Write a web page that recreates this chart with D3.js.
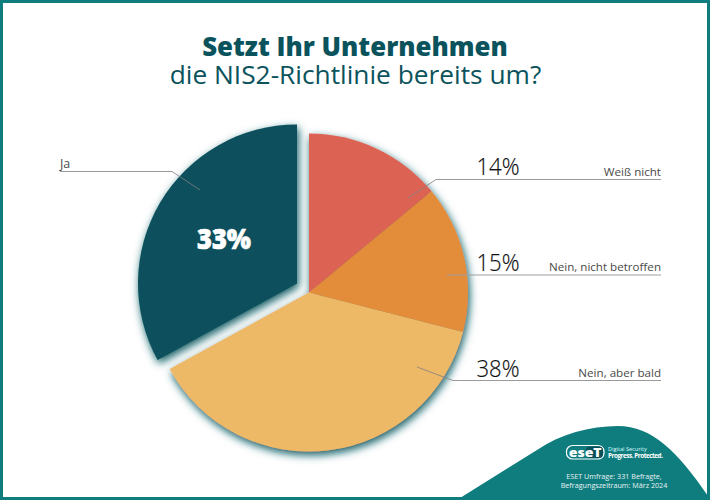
<!DOCTYPE html>
<html><head><meta charset="utf-8">
<script src="https://cdn.jsdelivr.net/npm/d3@7"></script>
<style>html,body{margin:0;padding:0;background:#fff}svg{display:block}text{font-family:"Open Sans","Noto Sans",sans-serif}</style>
</head><body><div id="c"></div>
<script>
const categories = ["Weiß nicht","Nein, nicht betroffen","Nein, aber bald","Ja"];
const values = [14,15,38,33];
const valueLabels = ["14%","15%","38%","33%"];
const colors = ["#dc6353","#e38d3a","#eeb966","#08505b"];
const title1 = "Setzt Ihr Unternehmen";
const title2 = "die NIS2-Richtlinie bereits um?";
const footer = ["ESET Umfrage: 331 Befragte,","Befragungszeitraum: März 2024"];

const W=710,H=500,teal="#0f7c7e",cx=309,cy=292.5,R=159;
const svg=d3.select("#c").append("svg").attr("width",W).attr("height",H);
const defs=svg.append("defs");
const f=defs.append("filter").attr("id","glow").attr("x","-20%").attr("y","-20%").attr("width","140%").attr("height","140%");
f.append("feDropShadow").attr("dx",1.5).attr("dy",3.5).attr("stdDeviation",4.5).attr("flood-color","#0a5a62").attr("flood-opacity",1);
svg.append("rect").attr("x",1.5).attr("y",1.5).attr("width",W-3).attr("height",H-3).attr("fill","#fff").attr("stroke",teal).attr("stroke-width",3);

// title
const tt=svg.append("text").attr("text-anchor","middle").attr("fill","#0b535c");
tt.append("tspan").attr("x",355).attr("y",56).attr("font-size",25.8).attr("font-weight",800).text(title1);
tt.append("tspan").attr("x",355.5).attr("y",84).attr("font-size",26.3).attr("font-weight",400).text(title2);

// pie
const pie=d3.pie().sort(null).value(d=>d)(values);
const arc=d3.arc().innerRadius(0).outerRadius(R);
const g=svg.append("g");
const offs=[-12,-9];
const main=g.append("g").attr("transform",`translate(${cx},${cy})`).attr("filter","url(#glow)");
main.selectAll("path").data(pie.slice(0,3)).join("path").attr("d",arc).attr("fill",(d,i)=>colors[i]);
g.append("g").attr("transform",`translate(${cx+offs[0]},${cy+offs[1]})`).attr("filter","url(#glow)")
  .append("path").datum(pie[3]).attr("d",arc).attr("fill",colors[3]);

// leader lines
const leaders=[
 {pts:[[408,198],[436,179.5],[661,179.5]],w:0.8,c:"#808080"},
 {pts:[[447,275],[661,275]],w:1.2,c:"#a0a0a0"},
 {pts:[[417,367],[453,380.5],[661,380.5]],w:0.8,c:"#808080"},
 {pts:[[200,190],[172,171.5],[60,171.5]],w:0.8,c:"#808080"}];
svg.selectAll("path.l").data(leaders).join("path").attr("class","l").attr("fill","none")
 .attr("stroke",d=>d.c).attr("stroke-width",d=>d.w).attr("d",d=>d3.line()(d.pts));

// value labels
const vy=[175,271,377];
valueLabels.slice(0,3).forEach((t,i)=>svg.append("text").attr("x",519.5).attr("y",vy[i]).attr("text-anchor","end")
 .attr("font-size",24).attr("font-weight",300).attr("fill","#111").attr("stroke","#111").attr("stroke-width",0.2).attr("textLength",43).attr("lengthAdjust","spacingAndGlyphs").text(t));
svg.append("text").attr("x",224).attr("y",249).attr("text-anchor","middle").attr("font-size",29).attr("font-weight",800)
 .attr("fill","#fff").attr("stroke","#fff").attr("stroke-width",0.7).attr("textLength",54).attr("lengthAdjust","spacingAndGlyphs").text(valueLabels[3]);

// category labels
[175.5,271,377].forEach((y,i)=>svg.append("text").attr("x",661).attr("y",y).attr("text-anchor","end").attr("font-size",11.6).attr("font-weight",400).attr("fill","#4a4a49").text(categories[i]));
svg.append("text").attr("x",60).attr("y",168).attr("font-size",12.5).attr("font-weight",400).attr("fill","#4a4a49").text(categories[3]);

// footer wave
svg.append("path").attr("fill",teal).attr("d","M460,498 L537,450 C 560,434 590,426 618,426 C 652,426 678,452 708,496 L708,498 Z");
svg.append("rect").attr("x",566.5).attr("y",445.5).attr("width",37.5).attr("height",13.5).attr("rx",6).attr("fill","none").attr("stroke","#fff").attr("stroke-width",1.2);
svg.append("rect").attr("x",586).attr("y",446.5).attr("width",17).attr("height",11.5).attr("rx",4).attr("fill","#0a505a");
svg.append("text").attr("x",585.2).attr("y",456.5).attr("text-anchor","middle").attr("font-size",12.5).attr("font-weight",800).attr("fill","#fff").attr("textLength",33).attr("lengthAdjust","spacingAndGlyphs").text("eseT");
const tag=svg.append("text");
tag.append("tspan").attr("x",608).attr("y",450.5).attr("font-size",5.6).attr("fill","#dff").text("Digital Security");
tag.append("tspan").attr("x",608).attr("y",457.5).attr("font-size",6.4).attr("font-weight",700).attr("fill","#fff").attr("textLength",55).text("Progress. Protected.");
footer.forEach((t,i)=>svg.append("text").attr("x",614).attr("y",479+i*8.8).attr("text-anchor","middle").attr("font-size",7.2).attr("fill","#e8f4f4").text(t));
</script></body></html>
